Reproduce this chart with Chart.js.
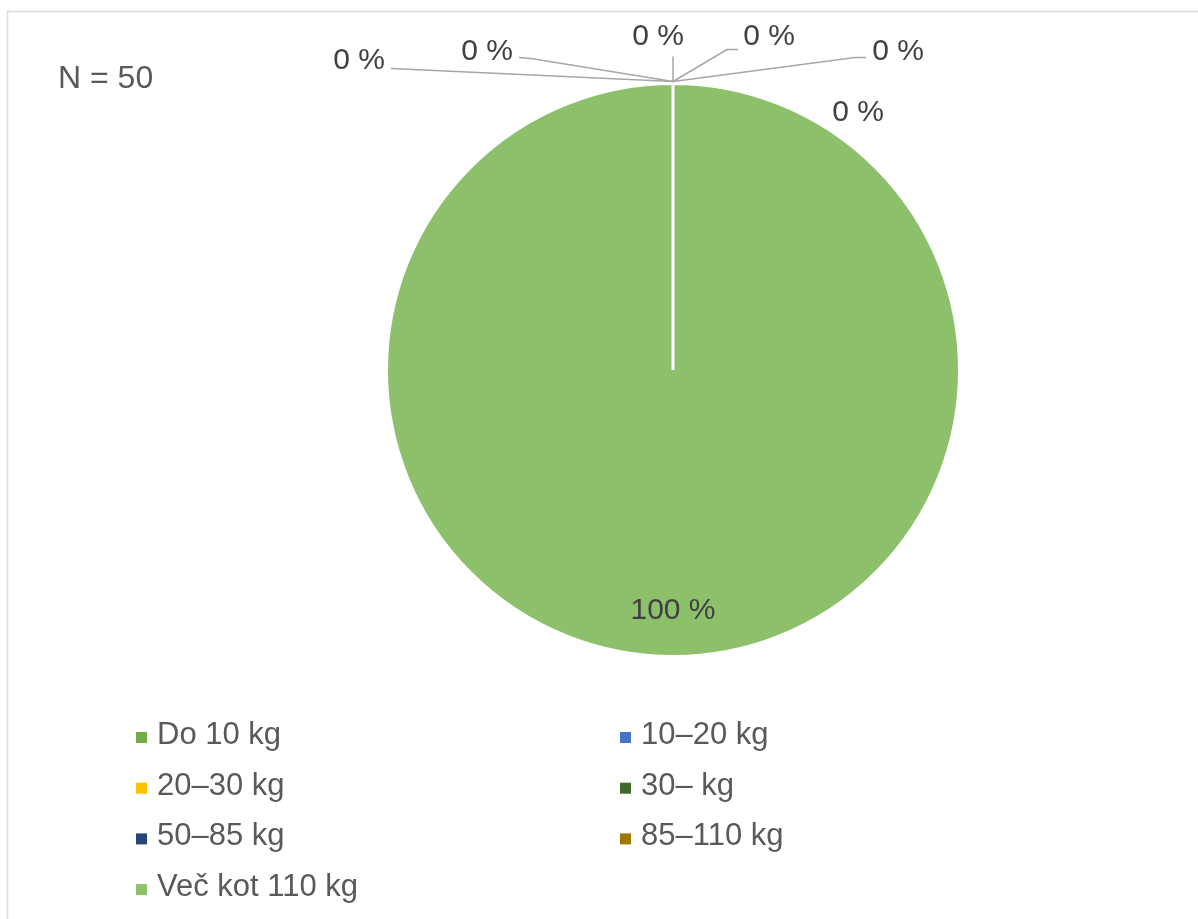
<!DOCTYPE html>
<html>
<head>
<meta charset="utf-8">
<script src="https://cdn.jsdelivr.net/npm/chart.js"></script>
<style>
  html, body { margin: 0; padding: 0; background: #fff; }
  #wrap { width: 1198px; height: 919px; }
</style>
</head>
<body>
<div id="wrap"><canvas id="pieChart" width="1198" height="919"></canvas></div>
<script>
const categories = ['Do 10 kg', '10–20 kg', '20–30 kg', '30– kg', '50–85 kg', '85–110 kg', 'Več kot 110 kg'];
const shares = [0, 0, 0, 0, 0, 0, 100];
const sliceColors = ['#70AD47', '#4472C4', '#FFC000', '#43682B', '#264478', '#9E7800', '#8DC06A'];
const sampleNote = 'N = 50';

// where Excel pushed the 0 % labels (relative to the top of the pie) and their leader bends
const zeroLabelSpots = [
  { dx: -314, dy: -13, line: [[-282, -13]] },
  { dx: -186, dy: -22, line: [[-154, -24], [-142, -23]] },
  { dx: -15, dy: -37, line: [[0, -25]] },
  { dx: 96, dy: -37, line: [[65, -32], [54, -32]] },
  { dx: 225, dy: -22, line: [[193, -24], [182, -24]] },
  { dx: 185, dy: 39, line: null }
];

const FONT = '"Liberation Sans", Arial, sans-serif';

const framePlugin = {
  id: 'frame',
  beforeDraw(chart) {
    const ctx = chart.ctx;
    ctx.save();
    ctx.fillStyle = '#fff';
    ctx.fillRect(0, 0, chart.width, chart.height);
    ctx.strokeStyle = '#D9D9D9';
    ctx.lineWidth = 1.5;
    ctx.strokeRect(7.5, 11.5, 1400, 1100);
    ctx.font = '32px ' + FONT;
    ctx.fillStyle = '#595959';
    ctx.textAlign = 'left';
    ctx.fillText(sampleNote, 58, 88);
    ctx.restore();
  }
};

const labelPlugin = {
  id: 'pieLabels',
  afterDatasetsDraw(chart) {
    const ctx = chart.ctx;
    const meta = chart.getDatasetMeta(0);
    ctx.save();
    ctx.font = '30px ' + FONT;
    ctx.fillStyle = '#404040';
    ctx.textAlign = 'center';
    ctx.textBaseline = 'alphabetic';
    let z = 0;
    meta.data.forEach((arc, i) => {
      const txt = shares[i] + ' %';
      const p = arc.getProps(['x', 'y', 'startAngle', 'endAngle', 'outerRadius'], true);
      if (shares[i] > 0) {
        const mid = (p.startAngle + p.endAngle) / 2;
        const r = p.outerRadius * 0.83;
        ctx.fillText(txt, p.x + Math.cos(mid) * r, p.y + Math.sin(mid) * r + 11);
        return;
      }
      const ax = p.x + Math.cos(p.startAngle) * (p.outerRadius + 2);
      const ay = p.y + Math.sin(p.startAngle) * (p.outerRadius + 2);
      const spot = zeroLabelSpots[z++];
      if (!spot) return;
      if (spot.line) {
        ctx.beginPath();
        ctx.strokeStyle = '#A6A6A6';
        ctx.lineWidth = 1.5;
        ctx.moveTo(ax + spot.line[0][0], ay + spot.line[0][1]);
        spot.line.slice(1).forEach(pt => ctx.lineTo(ax + pt[0], ay + pt[1]));
        ctx.lineTo(ax, ay);
        ctx.stroke();
      }
      ctx.fillText(txt, ax + spot.dx, ay + spot.dy);
    });
    ctx.restore();
  }
};

const legendPlugin = {
  id: 'gridLegend',
  afterDraw(chart) {
    const ctx = chart.ctx;
    ctx.save();
    ctx.font = '31px ' + FONT;
    ctx.textAlign = 'left';
    categories.forEach((name, i) => {
      const col = i % 2, row = Math.floor(i / 2);
      const x = col === 0 ? 136 : 620;
      const base = 744 + row * 50.7;
      ctx.fillStyle = sliceColors[i];
      ctx.fillRect(x, base - 12, 11, 11);
      ctx.fillStyle = '#595959';
      ctx.fillText(name, x + 21, base);
    });
    ctx.restore();
  }
};

new Chart(document.getElementById('pieChart'), {
  type: 'pie',
  data: {
    labels: categories,
    datasets: [{ data: shares, backgroundColor: sliceColors, borderColor: '#fff', borderWidth: 3 }]
  },
  options: {
    responsive: false,
    animation: false,
    layout: { padding: { top: 82, bottom: 261, left: 385, right: 237 } },
    plugins: { legend: { display: false }, tooltip: { enabled: false } }
  },
  plugins: [framePlugin, labelPlugin, legendPlugin]
});
</script>
</body>
</html>
